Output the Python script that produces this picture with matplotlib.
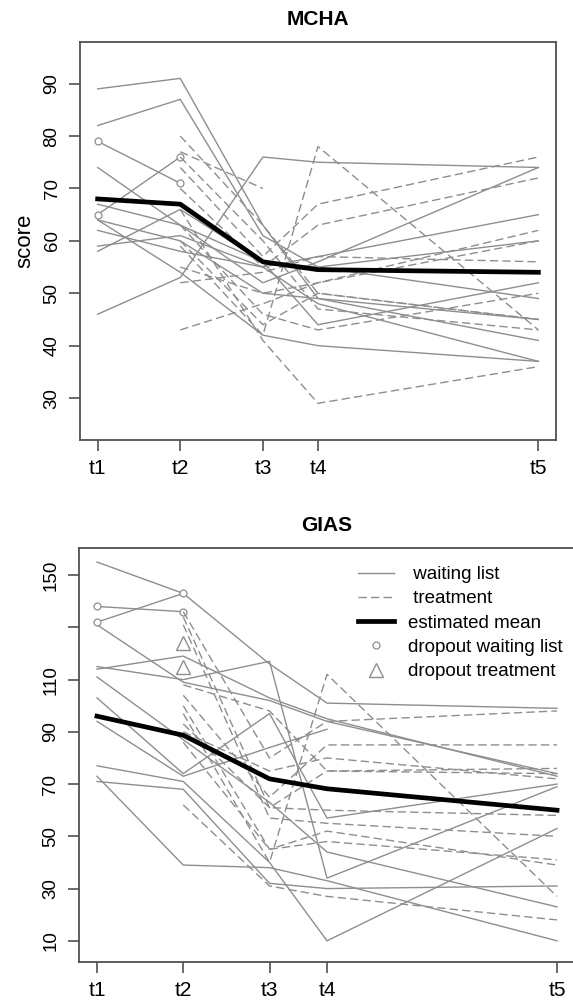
import numpy as np
import matplotlib
matplotlib.use("Agg")
import matplotlib.pyplot as plt
from matplotlib.lines import Line2D

plt.rcParams['font.family'] = ['Liberation Sans', 'DejaVu Sans']

# measurement weeks and labels
weeks = [0, 3, 6, 8, 16]
time_labels = ['t1', 't2', 't3', 't4', 't5']
nan = np.nan

# MCHA - waiting list (solid)
mcha_wait = [
    [89, 91, 63, 49, 45],
    [82, 87, 61, 55, 49],
    [74, 63, 52, 56, 74],
    [46, 53, 76, 75, 74],
    [58, 66, 56, 44, 52],
    [59, 61, 55, 57, 65],
    [64, 54, 42, 40, 37],
    [62, 58, 55, 48, 37],
    [67, 63, 56, 55, 60],
    [64, 60, 50, 49, 41],
]
mcha_wait_dropout = [
    [79, 71, nan, nan, nan],
    [65, 76, nan, nan, nan],
]
# MCHA - treatment (dashed)
mcha_treat = [
    [nan, 80, 63, 50, 45],
    [nan, 77, 70, nan, nan],
    [nan, 76, 60, 47, 43],
    [nan, 74, 57, 67, 76],
    [nan, 70, 55, 63, 72],
    [nan, 66, 41, 29, 36],
    [nan, 59, 42, 78, 43],
    [nan, 55, 50, 52, 62],
    [nan, 52, 54, 57, 56],
    [nan, 43, 48, 52, 60],
    [nan, 63, 46, 43, 50],
    [nan, 60, 44, 50, 45],
]
mcha_mean = [68, 67, 56, 54.5, 54]

# GIAS - waiting list (solid)
gias_wait = [
    [155, 143, 116, 101, 99],
    [115, 110, 117, 34, 69],
    [114, 119, 103, 95, 73],
    [131, 109, 102, 94, 74],
    [111, 87, 63, 44, 23],
    [103, 74, 97, 57, 70],
    [94, 73, 84, 91, nan],
    [77, 71, 40, 10, 53],
    [71, 68, 32, 30, 31],
    [73, 39, 38, 33, 10],
]
gias_wait_dropout = [
    [138, 136, nan, nan, nan],
    [132, 143, nan, nan, nan],
]
# GIAS - treatment (dashed)
gias_treat = [
    [nan, 136, 80, 94, 98],
    [nan, 134, 61, 60, 58],
    [nan, 131, 57, 55, 50],
    [nan, 108, 98, 75, 76],
    [nan, 104, 65, 85, 85],
    [nan, 100, 45, 52, 39],
    [nan, 97, 40, 112, 27],
    [nan, 62, 31, 27, 18],
    [nan, 90, 75, 80, 72],
    [nan, 86, 45, 48, 41],
    [nan, 93, 61, 75, 74],
]
gias_treat_dropout_t2 = [124, 115]
gias_mean = [96, 88.7, 72, 68.2, 60]

grey = '#8e8e8e'
frame = '#505050'
dash = (6, 3)


def panel(ax, title, wait, wait_drop, treat, mean, ylim, yticks, ylabels):
    for s in wait:
        ax.plot(weeks, s, color=grey, lw=1.0)
    for s in wait_drop:
        ax.plot(weeks, s, color=grey, lw=1.0, marker='o', ms=5,
                mfc='white', mec=grey, mew=0.9)
    for s in treat:
        ax.plot(weeks, s, color=grey, lw=1.0, ls=(0, dash))
    ax.plot(weeks, mean, color='black', lw=3.4, solid_joinstyle='round')
    ax.set_xlim(-0.64, 16.64)
    ax.set_ylim(*ylim)
    ax.set_xticks(weeks)
    ax.set_xticklabels(time_labels, fontsize=15)
    ax.set_yticks(yticks)
    ax.set_yticklabels(ylabels, fontsize=13.5, rotation=90, va='center')
    ax.tick_params(length=8, width=1.2, color=frame, pad=6)
    for sp in ax.spines.values():
        sp.set_color(frame)
        sp.set_linewidth(1.3)
    ax.set_title(title, fontsize=15, fontweight='bold', pad=12)


fig = plt.figure(figsize=(5.73, 10), dpi=100)

ax1 = fig.add_axes([0.1396, 0.56, 0.8307, 0.3983])
panel(ax1, 'MCHA', mcha_wait, mcha_wait_dropout, mcha_treat, mcha_mean,
      (22, 98), [30, 40, 50, 60, 70, 80, 90],
      ['30', '40', '50', '60', '70', '80', '90'])
ax1.set_ylabel('score', fontsize=16, labelpad=6)

ax2 = fig.add_axes([0.1372, 0.0383, 0.867, 0.414])
panel(ax2, 'GIAS', gias_wait, gias_wait_dropout, gias_treat, gias_mean,
      (2, 160.5), [10, 30, 50, 70, 90, 110, 130, 150],
      ['10', '30', '50', '70', '90', '110', '', '150'])
ax2.plot([weeks[1]] * len(gias_treat_dropout_t2), gias_treat_dropout_t2,
         ls='none', marker='^', ms=10, mfc='none', mec=grey, mew=1.0)

handles = [
    Line2D([], [], color=grey, lw=1.0),
    Line2D([], [], color=grey, lw=1.0, ls=(0, dash)),
    Line2D([], [], color='black', lw=3.4),
    Line2D([], [], ls='none', marker='o', ms=5, mfc='white', mec=grey, mew=0.9),
    Line2D([], [], ls='none', marker='^', ms=10, mfc='none', mec=grey, mew=1.0),
]
labels = [' waiting list', ' treatment', 'estimated mean',
          'dropout waiting list', 'dropout treatment']
fig.legend(handles, labels, loc='upper left',
           bbox_to_anchor=(358 / 573, 1 - 566 / 1000),
           bbox_transform=fig.transFigure, frameon=False, fontsize=13.5,
           handlelength=1.9, handletextpad=0.75, labelspacing=0.38,
           borderpad=0, borderaxespad=0)

fig.savefig('out.png', dpi=100)
